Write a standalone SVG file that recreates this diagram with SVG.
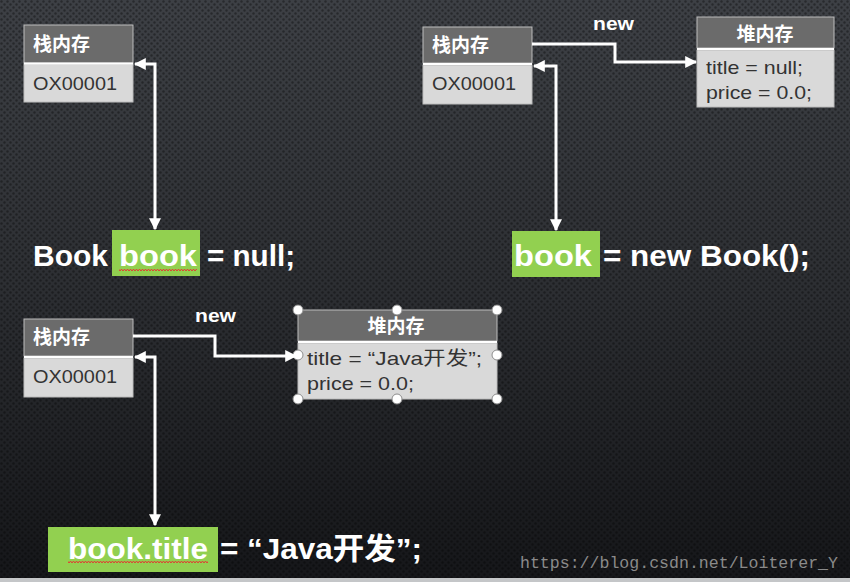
<svg xmlns="http://www.w3.org/2000/svg" width="850" height="582" viewBox="0 0 850 582">
<defs>
<linearGradient id="bg" x1="0" y1="0" x2="0" y2="1">
<stop offset="0" stop-color="#3d4045"/>
<stop offset="0.5" stop-color="#2c2e32"/>
<stop offset="1" stop-color="#151619"/>
</linearGradient>
<pattern id="dots" width="6" height="6" patternUnits="userSpaceOnUse">
<circle cx="1.5" cy="1.5" r="1.2" fill="#000" fill-opacity="0.35"/>
<circle cx="4.5" cy="4.5" r="1.2" fill="#000" fill-opacity="0.35"/>
</pattern>
<marker id="ah" viewBox="0 0 10 10" refX="9" refY="5" markerWidth="4" markerHeight="4" orient="auto-start-reverse" markerUnits="strokeWidth">
<path d="M0,0 L10,5 L0,10 z" fill="#fff"/>
</marker>
<pattern id="wave" width="6" height="4" patternUnits="userSpaceOnUse">
<path d="M0,3 L1.5,1 L3,3 L4.5,1 L6,3" fill="none" stroke="#e03c31" stroke-width="1"/>
</pattern>
</defs>
<style>
.hdr{fill:#6b6b6b;stroke:#bdbdbd;stroke-width:1}
.bdy{fill:#d9d9d9;stroke:#bdbdbd;stroke-width:1}
.sep{stroke:#ffffff;stroke-width:2}
.ht{font-family:"Noto Sans CJK SC",sans-serif;font-weight:bold;font-size:19px;fill:#fff}
.bt{font-family:"Liberation Sans","Noto Sans CJK SC",sans-serif;font-size:19px;fill:#333}
.code{font-family:"Liberation Sans","Noto Sans CJK SC",sans-serif;font-weight:bold;font-size:30px;fill:#fff}
.green{fill:#92d050}
.lbl{font-family:"Liberation Sans",sans-serif;font-weight:bold;font-size:19px;fill:#fff}
.conn{fill:none;stroke:#fff;stroke-width:3}
.handle{fill:#fff;stroke:#8c8c8c;stroke-width:1}
</style>
<rect width="850" height="582" fill="url(#bg)"/>
<rect width="850" height="582" fill="url(#dots)"/>
<rect x="0" y="578" width="850" height="4" fill="#c4c6c8"/>

<g id="stack1">
<rect class="hdr" x="24" y="25" width="109" height="38"/>
<rect class="bdy" x="24" y="64" width="109" height="38"/>
<line class="sep" x1="24" y1="63.5" x2="133" y2="63.5"/>
<text class="ht" x="33" y="51">栈内存</text>
<text class="bt" x="33" y="90" textLength="84" lengthAdjust="spacingAndGlyphs">OX00001</text>
</g>
<g id="code1">
<rect class="green" x="112" y="230" width="88" height="46"/>
<text class="code" x="33" y="266" textLength="75" lengthAdjust="spacingAndGlyphs">Book</text>
<text class="code" x="119" y="266" textLength="78" lengthAdjust="spacingAndGlyphs">book</text>
<rect x="119" y="268" width="78" height="4" fill="url(#wave)"/>
<text class="code" x="207" y="266" textLength="88" lengthAdjust="spacingAndGlyphs">= null;</text>
</g>

<g id="stack2">
<rect class="hdr" x="423" y="27" width="109" height="36"/>
<rect class="bdy" x="423" y="65" width="109" height="39"/>
<line class="sep" x1="423" y1="64" x2="532" y2="64"/>
<text class="ht" x="432" y="52">栈内存</text>
<text class="bt" x="432" y="90" textLength="84" lengthAdjust="spacingAndGlyphs">OX00001</text>
</g>
<g id="heap2">
<rect class="hdr" x="697" y="17" width="137" height="31"/>
<rect class="bdy" x="697" y="50" width="137" height="57"/>
<line class="sep" x1="697" y1="49" x2="834" y2="49"/>
<text class="ht" x="765" y="41" text-anchor="middle">堆内存</text>
<text class="bt" x="706" y="74" textLength="97" lengthAdjust="spacingAndGlyphs">title = null;</text>
<text class="bt" x="706" y="99" textLength="106" lengthAdjust="spacingAndGlyphs">price = 0.0;</text>
</g>
<g id="code2">
<rect class="green" x="512" y="231" width="88" height="46"/>
<text class="code" x="514" y="266" textLength="78" lengthAdjust="spacingAndGlyphs">book</text>
<text class="code" x="603" y="266" textLength="207" lengthAdjust="spacingAndGlyphs">= new Book();</text>
</g>

<g id="stack3">
<rect class="hdr" x="24" y="319" width="109" height="37"/>
<rect class="bdy" x="24" y="358" width="109" height="39"/>
<line class="sep" x1="24" y1="357" x2="133" y2="357"/>
<text class="ht" x="33" y="344">栈内存</text>
<text class="bt" x="33" y="383" textLength="84" lengthAdjust="spacingAndGlyphs">OX00001</text>
</g>
<g id="heap3">
<rect class="hdr" x="298" y="310" width="199" height="31"/>
<rect class="bdy" x="298" y="343" width="199" height="56"/>
<line class="sep" x1="298" y1="342" x2="497" y2="342"/>
<text class="ht" x="396" y="333" text-anchor="middle">堆内存</text>
<text class="bt" x="307" y="365" textLength="175" lengthAdjust="spacingAndGlyphs">title = “Java开发”;</text>
<text class="bt" x="307" y="390" textLength="107" lengthAdjust="spacingAndGlyphs">price = 0.0;</text>
<circle class="handle" cx="298" cy="310" r="5"/>
<circle class="handle" cx="397" cy="310" r="5"/>
<circle class="handle" cx="497" cy="310" r="5"/>
<circle class="handle" cx="298" cy="355" r="5"/>
<circle class="handle" cx="497" cy="355" r="5"/>
<circle class="handle" cx="298" cy="399" r="5"/>
<circle class="handle" cx="397" cy="399" r="5"/>
<circle class="handle" cx="497" cy="399" r="5"/>
</g>
<g id="code3">
<rect class="green" x="48" y="527" width="170" height="45"/>
<text class="code" x="68" y="559" textLength="140" lengthAdjust="spacingAndGlyphs">book.title</text>
<rect x="68" y="561" width="140" height="4" fill="url(#wave)"/>
<text class="code" x="220" y="559" textLength="202" lengthAdjust="spacingAndGlyphs">= “Java开发”;</text>
</g>

<g id="connectors">
<path class="conn" d="M135,64 H155 V229" marker-start="url(#ah)" marker-end="url(#ah)"/>
<path class="conn" d="M534,66 H556 V230" marker-start="url(#ah)" marker-end="url(#ah)"/>
<path class="conn" d="M532,44 H615 V62 H696" marker-end="url(#ah)"/>
<text class="lbl" x="593" y="30" textLength="41" lengthAdjust="spacingAndGlyphs">new</text>
<path class="conn" d="M133,336 H215 V356 H296" marker-end="url(#ah)"/>
<text class="lbl" x="195" y="322" textLength="41" lengthAdjust="spacingAndGlyphs">new</text>
<path class="conn" d="M135,357 H155 V525" marker-start="url(#ah)" marker-end="url(#ah)"/>
</g>

<text x="520" y="568" font-family="Liberation Mono, monospace" font-size="16.5" fill="#8a8a8a" textLength="318" lengthAdjust="spacingAndGlyphs">https://blog.csdn.net/Loiterer_Y</text>
</svg>
